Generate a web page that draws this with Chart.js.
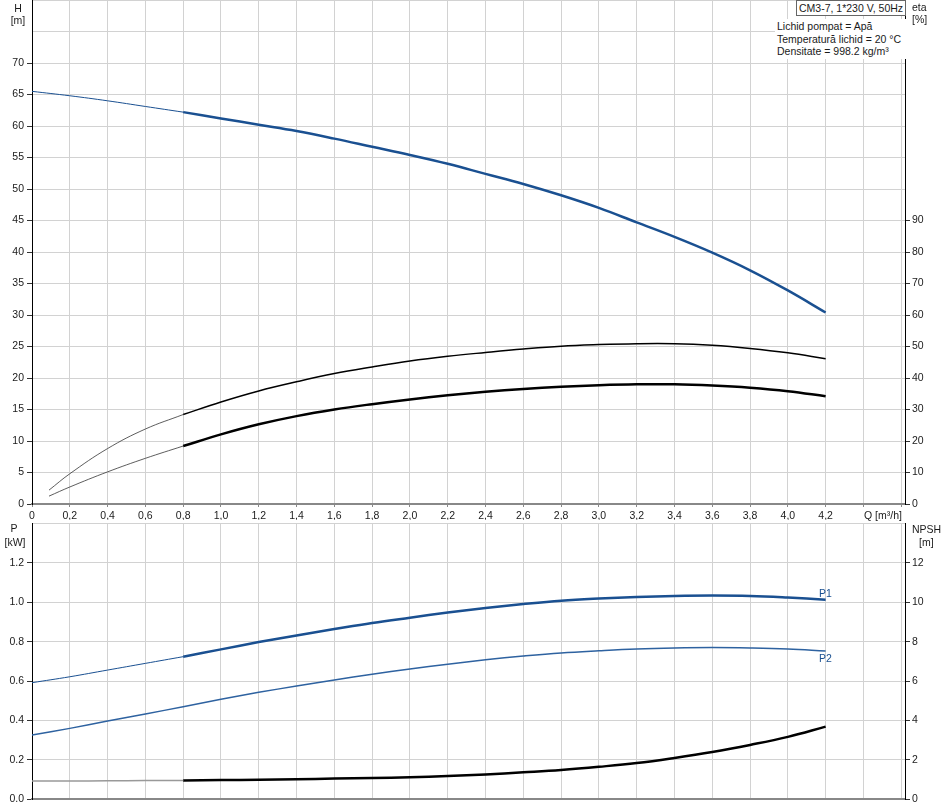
<!DOCTYPE html>
<html lang="ro">
<head>
<meta charset="UTF-8">
<title>CM3-7 curbe pompa</title>
<script src="https://cdn.jsdelivr.net/npm/chart.js"></script>
<style>
  body { margin: 0; background: #fff; font-family: "Liberation Sans", Arial, sans-serif; font-size: 10.5px; color: #1a1a1a; }
  #wrap { position: relative; width: 945px; height: 808px; overflow: hidden; }
  canvas { position: absolute; left: 0; }
  .lbl { position: absolute; white-space: nowrap; line-height: 12px; }
  .c { text-align: center; }
  #box { position: absolute; left: 796px; top: 0; width: 110px; height: 16px; box-sizing: border-box;
         border: 1px solid #666; background: #fff; padding-left: 2px; line-height: 14px; white-space: nowrap; }
  #info { position: absolute; left: 775px; top: 19px; width: 130px; background: #fff; padding: 1px 2px; line-height: 12.5px; white-space: nowrap; }
  .blue { color: #1a5091; }
</style>
<script>
  // flow points (m3/h)
  const q = [0, 0.2, 0.4, 0.6, 0.8, 1.0, 1.2, 1.4, 1.6, 1.8, 2.0, 2.2, 2.4, 2.6, 2.8, 3.0, 3.2, 3.4, 3.6, 3.8, 4.0, 4.2];
  const qEta = [0.09, 0.2, 0.4, 0.6, 0.8, 1.0, 1.2, 1.4, 1.6, 1.8, 2.0, 2.2, 2.4, 2.6, 2.8, 3.0, 3.2, 3.4, 3.6, 3.8, 4.0, 4.2];

  // H [m]
  const head = [65.5, 64.8, 64.0, 63.1, 62.2, 61.2, 60.2, 59.2, 58.0, 56.7, 55.4, 54.0, 52.4, 50.8, 49.0, 47.0, 44.7, 42.4, 39.9, 37.1, 33.9, 30.4];
  // eta [%]
  const etaPump = [4.4, 9.6, 17.6, 23.8, 28.4, 32.4, 35.9, 38.8, 41.4, 43.5, 45.4, 46.9, 48.1, 49.2, 50.1, 50.6, 50.9, 50.9, 50.4, 49.4, 48.0, 46.1];
  const etaTotal = [2.5, 5.4, 10.2, 14.5, 18.4, 22.1, 25.3, 27.9, 30.0, 31.7, 33.2, 34.5, 35.6, 36.5, 37.2, 37.7, 38.0, 38.0, 37.6, 36.9, 35.8, 34.2];
  // P [kW]
  const p1 = [0.592, 0.622, 0.656, 0.690, 0.724, 0.761, 0.798, 0.832, 0.864, 0.895, 0.922, 0.948, 0.971, 0.991, 1.008, 1.019, 1.027, 1.032, 1.034, 1.032, 1.024, 1.013];
  const p2 = [0.326, 0.360, 0.397, 0.433, 0.470, 0.508, 0.543, 0.575, 0.606, 0.635, 0.661, 0.686, 0.708, 0.727, 0.743, 0.754, 0.763, 0.768, 0.770, 0.768, 0.763, 0.753];
  // NPSH [m]
  const npsh = [0.93, 0.93, 0.94, 0.95, 0.96, 0.98, 0.99, 1.02, 1.05, 1.08, 1.12, 1.18, 1.26, 1.37, 1.49, 1.65, 1.84, 2.10, 2.40, 2.76, 3.17, 3.69];

  const BLUE = '#1a5091';
  const GRID = '#d2d2d2';
  const TICKFONT = { family: 'Liberation Sans', size: 10.5 };

  function pts(xs, ys, from, to) {
    return xs.map((x, i) => ({ x: x, y: ys[i] }))
      .filter(p => p.x >= from - 1e-9 && p.x <= to + 1e-9);
  }

  function line(data, color, width, axis) {
    return {
      data: data, borderColor: color, borderWidth: width, pointRadius: 0,
      fill: false, tension: 0.4, yAxisID: axis
    };
  }

  function qAxis(showLabels, h) {
    return {
      type: 'linear', min: 0, max: 4.62,
      grid: { color: GRID, tickLength: showLabels ? 3 : 0, tickColor: '#888' },
      border: { color: '#888', width: 2 },
      ticks: {
        display: showLabels, stepSize: 0.2, includeBounds: false, autoSkip: false, maxRotation: 0,
        padding: 3, color: '#1a1a1a', font: TICKFONT,
        callback: v => v > 4.25 ? '' : (Math.abs(v) < 1e-9 ? '0' : v.toFixed(1).replace('.', ','))
      },
      afterFit: s => { s.height = h; s.paddingLeft = 0; s.paddingRight = 0; }
    };
  }

  function yAxis(pos, max, step, lastLabel, fmt, grid) {
    return {
      type: 'linear', position: pos, min: 0, max: max,
      grid: {
        drawOnChartArea: grid, color: GRID, tickLength: 5,
        tickColor: c => (c.tick && c.tick.value > lastLabel + 1e-9) ? 'rgba(0,0,0,0)' : '#333'
      },
      border: { color: '#000', width: 1 },
      ticks: {
        stepSize: step, includeBounds: false, autoSkip: false, padding: pos === 'left' ? 3 : 2,
        color: '#1a1a1a', font: TICKFONT,
        callback: v => v > lastLabel + 1e-9 ? '' : fmt(v)
      },
      afterFit: s => { s.width = pos === 'left' ? 32 : 40; s.paddingTop = 0; s.paddingBottom = 0; }
    };
  }

  window.onload = function() {
    new Chart(document.getElementById('top'), {
      type: 'line',
      data: {
        datasets: [
          line(pts(q, head, 0, 0.8), BLUE, 1, 'yH'),
          line(pts(q, head, 0.8, 4.2), BLUE, 2.5, 'yH'),
          line(pts(qEta, etaPump, 0, 0.8), '#333', 0.8, 'yEta'),
          line(pts(qEta, etaPump, 0.8, 4.2), '#000', 1.5, 'yEta'),
          line(pts(qEta, etaTotal, 0, 0.8), '#333', 0.8, 'yEta'),
          line(pts(qEta, etaTotal, 0.8, 4.2), '#000', 2.5, 'yEta')
        ]
      },
      options: {
        responsive: false, animation: false, devicePixelRatio: 1,
        plugins: { legend: { display: false }, tooltip: { enabled: false } },
        layout: { padding: 0 },
        scales: {
          x: qAxis(true, 16),
          yH: yAxis('left', 80, 5, 70, v => String(Math.round(v)), true),
          yEta: yAxis('right', 160, 10, 90, v => String(Math.round(v)), false)
        }
      }
    });

    new Chart(document.getElementById('bottom'), {
      type: 'line',
      data: {
        datasets: [
          line(pts(q, p1, 0, 0.8), BLUE, 1, 'yP'),
          line(pts(q, p1, 0.8, 4.2), BLUE, 2.5, 'yP'),
          line(pts(q, p2, 0, 4.2), '#2e62a0', 1.5, 'yP'),
          line(pts(q, npsh, 0, 0.8), '#999', 1.5, 'yN'),
          line(pts(q, npsh, 0.8, 4.2), '#000', 2.5, 'yN')
        ]
      },
      options: {
        responsive: false, animation: false, devicePixelRatio: 1,
        plugins: { legend: { display: false }, tooltip: { enabled: false } },
        layout: { padding: { top: 3.5 } },
        scales: {
          x: qAxis(false, 8.7),
          yP: yAxis('left', 1.4, 0.2, 1.2, v => v.toFixed(1), true),
          yN: yAxis('right', 14, 2, 12, v => String(Math.round(v)), false)
        }
      }
    });
  };
</script>
</head>
<body>
<div id="wrap">
  <canvas id="top" width="945" height="520" style="top:0"></canvas>
  <canvas id="bottom" width="945" height="288" style="top:520px"></canvas>

  <div class="lbl c" style="left:6px;top:2px;width:24px">H</div>
  <div class="lbl c" style="left:6px;top:14px;width:24px">[m]</div>
  <div class="lbl" style="left:912px;top:1px">eta</div>
  <div class="lbl" style="left:912px;top:13px">[%]</div>
  <div class="lbl" style="left:864px;top:509px">Q [m³/h]</div>

  <div class="lbl c" style="left:2px;top:522px;width:24px">P</div>
  <div class="lbl c" style="left:2px;top:536px;width:26px">[kW]</div>
  <div class="lbl" style="left:912px;top:523px">NPSH</div>
  <div class="lbl" style="left:919px;top:536px">[m]</div>

  <div class="lbl blue" style="left:819px;top:587px">P1</div>
  <div class="lbl blue" style="left:819px;top:652px">P2</div>

  <div id="box">CM3-7, 1*230 V, 50Hz</div>
  <div id="info">Lichid pompat = Apă<br>Temperatură lichid = 20 °C<br>Densitate = 998.2 kg/m³</div>
</div>
</body>
</html>
